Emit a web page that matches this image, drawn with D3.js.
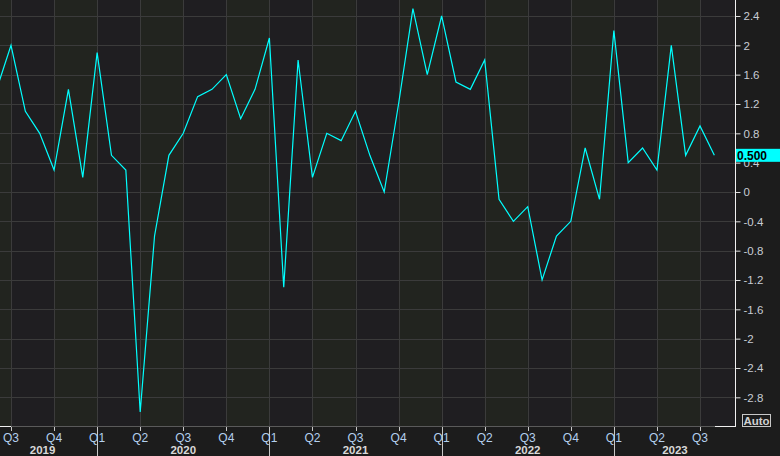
<!DOCTYPE html>
<html>
<head>
<meta charset="utf-8">
<script src="https://cdn.jsdelivr.net/npm/d3@7"></script>
<style>
  body { margin: 0; background: #1c1c1c; overflow: hidden; }
  svg { display: block; }
  text { font-family: "Liberation Sans", Arial, sans-serif; }
</style>
</head>
<body>
<svg id="chart" width="780" height="456"></svg>
<script>
var months = [
  "2019-06", "2019-07", "2019-08", "2019-09", "2019-10", "2019-11", "2019-12",
  "2020-01", "2020-02", "2020-03", "2020-04", "2020-05", "2020-06",
  "2020-07", "2020-08", "2020-09", "2020-10", "2020-11", "2020-12",
  "2021-01", "2021-02", "2021-03", "2021-04", "2021-05", "2021-06",
  "2021-07", "2021-08", "2021-09", "2021-10", "2021-11", "2021-12",
  "2022-01", "2022-02", "2022-03", "2022-04", "2022-05", "2022-06",
  "2022-07", "2022-08", "2022-09", "2022-10", "2022-11", "2022-12",
  "2023-01", "2023-02", "2023-03", "2023-04", "2023-05", "2023-06",
  "2023-07", "2023-08"
];
var values = [
  1.4, 2.0, 1.1, 0.8, 0.3, 1.4, 0.2,
  1.9, 0.5, 0.3, -3.0, -0.6, 0.5, 0.8, 1.3, 1.4, 1.6, 1.0, 1.4,
  2.1, -1.3, 1.8, 0.2, 0.8, 0.7, 1.1, 0.5, 0.0, 1.2, 2.5, 1.6,
  2.4, 1.5, 1.4, 1.8, -0.1, -0.4, -0.2, -1.2, -0.6, -0.4, 0.6, -0.1,
  2.2, 0.4, 0.6, 0.3, 2.0, 0.5, 0.9, 0.5
];
var quarterMonths = [
  "2019-07", "2019-10", "2020-01", "2020-04", "2020-07", "2020-10",
  "2021-01", "2021-04", "2021-07", "2021-10", "2022-01", "2022-04",
  "2022-07", "2022-10", "2023-01", "2023-04", "2023-07"
];
var quarterLabels = [
  "Q3", "Q4", "Q1", "Q2", "Q3", "Q4", "Q1", "Q2", "Q3",
  "Q4", "Q1", "Q2", "Q3", "Q4", "Q1", "Q2", "Q3"
];
var years = ["2019", "2020", "2021", "2022", "2023"];
var yTicks = [2.4, 2, 1.6, 1.2, 0.8, 0.4, 0, -0.4, -0.8, -1.2, -1.6, -2, -2.4, -2.8];

var W = 780, H = 456;
var plotR = 735, plotB = 426;

var svg = d3.select("#chart");

var x = d3.scalePoint()
  .domain(months)
  .range([-3.35, 714.35]);
var step = x.step();

var y = d3.scaleLinear()
  .domain([-3.191, 2.618])
  .range([plotB, 0]);

// plot background + alternating quarter bands
svg.append("rect")
  .attr("x", 0).attr("y", 0)
  .attr("width", plotR).attr("height", plotB)
  .attr("fill", "#1f1e21");

svg.append("clipPath").attr("id", "plotclip")
  .append("rect").attr("x", 0).attr("y", 0)
  .attr("width", plotR).attr("height", plotB);

var plot = svg.append("g").attr("clip-path", "url(#plotclip)");

// band before each Q1/Q3 tick (i.e. the Q4/Q2 quarter) is tinted green
plot.selectAll(".band")
  .data(quarterMonths.filter(function(m, i) {
    return quarterLabels[i] == "Q1" || quarterLabels[i] == "Q3"; }))
  .enter().append("rect")
  .attr("class", "band")
  .attr("x", function(d) { return x(d) - 3 * step; })
  .attr("y", 0)
  .attr("width", 3 * step)
  .attr("height", plotB)
  .attr("fill", "#22241f");

// grid
plot.selectAll(".hgrid")
  .data(yTicks)
  .enter().append("line")
  .attr("class", "hgrid")
  .attr("x1", 0).attr("x2", plotR)
  .attr("y1", function(d) { return Math.round(y(d)) + 0.5; })
  .attr("y2", function(d) { return Math.round(y(d)) + 0.5; })
  .attr("stroke", "#3b3b3b");

plot.selectAll(".vgrid")
  .data(quarterMonths)
  .enter().append("line")
  .attr("class", "vgrid")
  .attr("x1", function(d) { return Math.round(x(d)) + 0.5; })
  .attr("x2", function(d) { return Math.round(x(d)) + 0.5; })
  .attr("y1", 0).attr("y2", plotB)
  .attr("stroke", "#3b3b3b");

// series
var line = d3.line()
  .x(function(d, i) { return x(months[i]); })
  .y(function(d) { return y(d); });

plot.append("path")
  .datum(values)
  .attr("d", line)
  .attr("fill", "none")
  .attr("stroke", "#00ffff")
  .attr("stroke-width", 1.2);

// right axis
var yAxis = d3.axisRight(y)
  .tickValues(yTicks)
  .tickSize(5)
  .tickPadding(3)
  .tickFormat(function(d) { return (+d.toFixed(1)).toString(); });

var ya = svg.append("g")
  .attr("transform", "translate(" + (plotR + 0.5) + ",0)")
  .call(yAxis);
ya.select(".domain").remove();
ya.selectAll(".tick line").attr("stroke", "#e0e0e0");
ya.selectAll(".tick text")
  .attr("fill", "#c8ccd4")
  .style("font-size", "11.5px")
  .style("font-family", "'Liberation Sans', Arial, sans-serif");

svg.append("line")
  .attr("x1", plotR + 0.5).attr("x2", plotR + 0.5)
  .attr("y1", 0).attr("y2", plotB + 1)
  .attr("stroke", "#f0f0f0");

// bottom border
svg.append("line")
  .attr("x1", 0).attr("x2", plotR)
  .attr("y1", plotB + 0.5).attr("y2", plotB + 0.5)
  .attr("stroke", "#5a5a5a");
svg.append("line")
  .attr("x1", 0).attr("x2", x(quarterMonths[0]))
  .attr("y1", plotB + 0.5).attr("y2", plotB + 0.5)
  .attr("stroke", "#f0f0f0");
svg.append("line")
  .attr("x1", 715).attr("x2", plotR + 1)
  .attr("y1", plotB + 0.5).attr("y2", plotB + 0.5)
  .attr("stroke", "#f0f0f0");

// last value badge
var last = values[values.length - 1];
var badge = svg.append("g").attr("transform", "translate(" + (plotR + 1) + "," + y(last) + ")");
badge.append("rect")
  .attr("x", 0).attr("y", -6.5)
  .attr("width", W - plotR).attr("height", 13)
  .attr("fill", "#00ffff");
badge.append("text")
  .attr("x", 1).attr("y", 0).attr("dy", "0.36em")
  .attr("fill", "#000")
  .style("font-size", "12px")
  .style("font-weight", "bold")
  .text(d3.format(".3f")(last));

// Auto box
svg.append("rect")
  .attr("x", 742.5).attr("y", 414.5)
  .attr("width", 28).attr("height", 12)
  .attr("fill", "#1c1c1c")
  .attr("stroke", "#c8c8c8");
svg.append("text")
  .attr("x", 756.5).attr("y", 425)
  .attr("text-anchor", "middle")
  .attr("fill", "#d0d0d0")
  .style("font-size", "11.5px")
  .style("font-weight", "bold")
  .text("Auto");

// x axis: quarters
var xa = svg.append("g");
xa.selectAll(".qtick")
  .data(quarterMonths)
  .enter().append("line")
  .attr("x1", function(d) { return Math.round(x(d)) + 0.5; })
  .attr("x2", function(d) { return Math.round(x(d)) + 0.5; })
  .attr("y1", plotB + 1)
  .attr("y2", function(d, i) { return quarterLabels[i] == "Q1" ? H : plotB + 5; })
  .attr("stroke", "#c8c8c8");

xa.selectAll(".qlabel")
  .data(quarterMonths)
  .enter().append("text")
  .attr("x", function(d) { return x(d); })
  .attr("y", 442)
  .attr("text-anchor", "middle")
  .attr("fill", "#b4d0ee")
  .style("font-size", "12px")
  .text(function(d, i) { return quarterLabels[i]; });

// x axis: years, centred on the visible part of each year
var clipL = -12;
xa.selectAll(".ylabel")
  .data(years)
  .enter().append("text")
  .attr("x", function(d) {
    var a = months.indexOf(d + "-01") >= 0 ? x(d + "-01") : clipL;
    var b = months.indexOf((+d + 1) + "-01") >= 0 ? x((+d + 1) + "-01") : plotR + 1;
    return (a + b) / 2;
  })
  .attr("y", 453.5)
  .attr("text-anchor", "middle")
  .attr("fill", "#d8d8d8")
  .style("font-size", "11.5px")
  .style("font-weight", "bold")
  .text(function(d) { return d; });
</script>
</body>
</html>
